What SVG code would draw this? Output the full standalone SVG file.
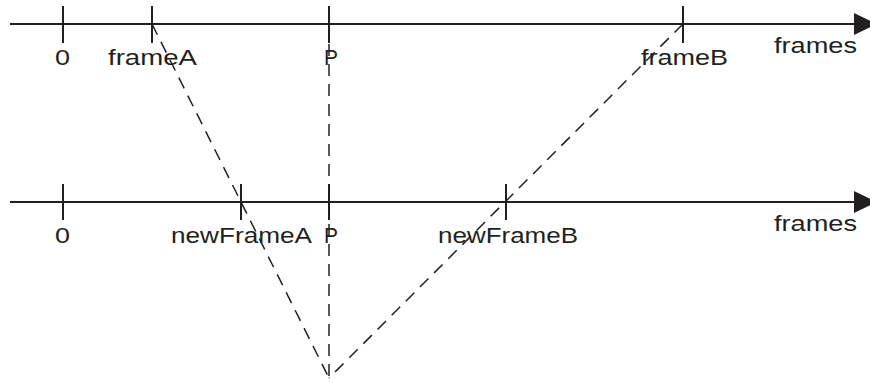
<svg xmlns="http://www.w3.org/2000/svg" width="870" height="383" viewBox="0 0 870 383">
<style>
.ax{stroke:#231f20;stroke-width:2;fill:none}
.tk{stroke:#231f20;stroke-width:2}
.ds{stroke:#231f20;stroke-width:1.5;stroke-dasharray:12 8;fill:none}
.hd{fill:#231f20}
text{font-family:"Liberation Sans",Arial,Helvetica,sans-serif;font-size:22.5px;fill:#231f20}
</style>
<rect width="870" height="383" fill="#fff"/>
<g id="axis-top">
<line class="ax" x1="10" y1="24" x2="858" y2="24"/>
<polygon class="hd" points="854,13 854,35 877,24"/>
<text x="774" y="53" textLength="83" lengthAdjust="spacingAndGlyphs">frames</text>
</g>
<g id="tick-top-0"><line class="tk" x1="63" y1="6" x2="63" y2="43"/><text x="55" y="65" textLength="15" lengthAdjust="spacingAndGlyphs">0</text></g>
<g id="tick-frameA"><line class="tk" x1="152" y1="6" x2="152" y2="43"/><text x="108" y="65" textLength="89" lengthAdjust="spacingAndGlyphs">frameA</text></g>
<g id="tick-top-P"><line class="tk" x1="329" y1="6" x2="329" y2="43"/><text x="324" y="65" textLength="14" lengthAdjust="spacingAndGlyphs">P</text></g>
<g id="tick-frameB"><line class="tk" x1="683" y1="6" x2="683" y2="43"/><text x="641" y="65" textLength="87" lengthAdjust="spacingAndGlyphs">frameB</text></g>
<g id="axis-bottom">
<line class="ax" x1="10" y1="202" x2="858" y2="202"/>
<polygon class="hd" points="854,191 854,213 877,202"/>
<text x="774" y="231" textLength="83" lengthAdjust="spacingAndGlyphs">frames</text>
</g>
<g id="tick-bottom-0"><line class="tk" x1="63" y1="184" x2="63" y2="220"/><text x="55" y="243" textLength="15" lengthAdjust="spacingAndGlyphs">0</text></g>
<g id="tick-newFrameA"><line class="tk" x1="241" y1="184" x2="241" y2="220"/><text x="171" y="243" textLength="141" lengthAdjust="spacingAndGlyphs">newFrameA</text></g>
<g id="tick-bottom-P"><line class="tk" x1="329" y1="184" x2="329" y2="220"/><text x="324" y="243" textLength="14" lengthAdjust="spacingAndGlyphs">P</text></g>
<g id="tick-newFrameB"><line class="tk" x1="506" y1="184" x2="506" y2="220"/><text x="438" y="243" textLength="140" lengthAdjust="spacingAndGlyphs">newFrameB</text></g>
<g id="connectors">
<line class="ds" x1="152" y1="24" x2="329" y2="378"/>
<line class="ds" x1="329" y1="24" x2="329" y2="378"/>
<line class="ds" x1="683" y1="24" x2="329" y2="378"/>
</g>
</svg>
